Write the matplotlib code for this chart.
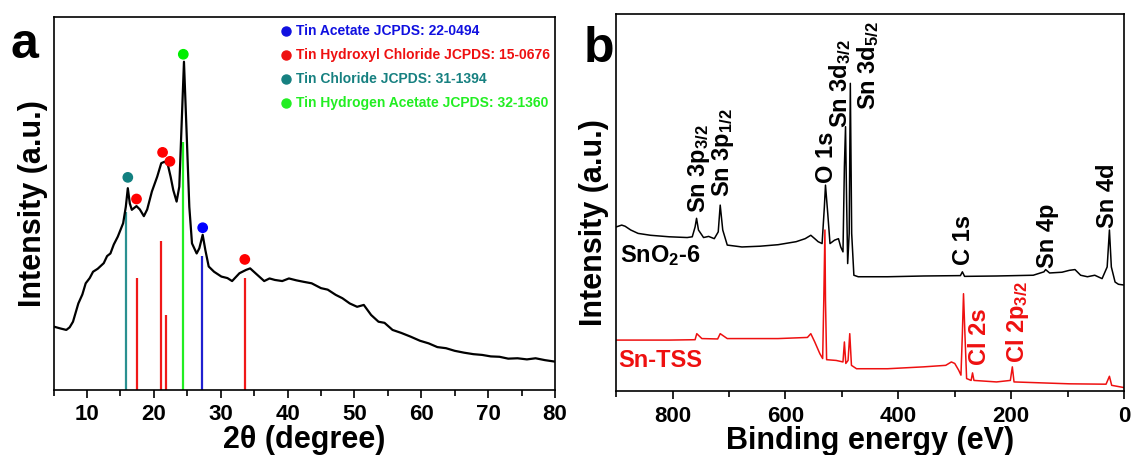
import matplotlib
matplotlib.use('Agg')
import matplotlib.pyplot as plt
from matplotlib.ticker import MultipleLocator

plt.rcParams['font.family'] = ['Liberation Sans', 'DejaVu Sans']
plt.rcParams['font.weight'] = 'bold'
plt.rcParams['mathtext.fontset'] = 'custom'
plt.rcParams['mathtext.rm'] = 'Liberation Sans:bold'
plt.rcParams['mathtext.it'] = 'Liberation Sans:bold'
plt.rcParams['mathtext.bf'] = 'Liberation Sans:bold'
plt.rcParams['mathtext.default'] = 'rm'

# ---- panel a: XRD ----
xrd_2theta = [5.0, 6.0, 6.9, 7.4, 7.9, 8.7, 9.3, 9.8, 10.4, 10.9, 11.6, 12.5, 13.0,
              13.5, 14.0, 14.6, 15.4, 15.8, 16.1, 16.4, 16.7, 17.4, 17.9, 18.5,
              19.0, 19.7, 20.5, 21.1, 21.6, 22.1, 22.5, 22.9, 23.4, 23.8, 24.1,
              24.5, 24.9, 25.3, 25.7, 26.4, 26.8, 27.3, 27.7, 28.2, 29.0, 30.1,
              31.0, 31.7, 32.8, 33.8, 34.4, 35.2, 36.5, 37.3, 38.1, 39.2, 40.2,
              41.3, 42.4, 43.6, 45.0, 46.0, 47.2, 48.2, 49.3, 50.4, 51.4, 52.5,
              53.6, 54.5, 55.7, 57.0, 58.4, 59.8, 61.1, 62.4, 63.7, 65.0, 66.4,
              67.8, 69.1, 70.4, 71.7, 73.0, 74.4, 75.8, 77.1, 78.5, 80.0]
xrd_intensity = [17.0, 16.5, 16.1, 16.8, 18.3, 23.2, 25.6, 28.6, 30.0, 31.7, 32.5,
                 34.0, 35.9, 36.6, 39.0, 41.1, 44.7, 49.1, 54.1, 50.0, 48.3, 49.3,
                 48.4, 46.6, 48.4, 53.2, 57.2, 60.8, 61.2, 60.3, 57.2, 53.6, 50.5,
                 54.5, 68.8, 88.0, 68.8, 49.1, 39.3, 36.6, 38.0, 41.6, 37.5, 33.1,
                 31.7, 30.4, 30.0, 29.2, 31.3, 32.2, 32.6, 31.3, 29.2, 29.9, 29.5,
                 29.2, 29.9, 29.4, 29.0, 28.6, 27.3, 26.9, 25.5, 24.6, 23.2, 22.3,
                 22.8, 20.1, 18.3, 18.0, 16.1, 15.3, 14.3, 13.2, 12.5, 11.5, 11.2,
                 10.5, 10.0, 9.6, 9.4, 9.0, 8.9, 8.4, 8.5, 8.2, 8.5, 8.0, 7.6]

stick_pos = [15.9, 17.4, 21.1, 21.8, 24.4, 27.2, 33.7]
stick_height = [47.8, 29.9, 40.0, 20.1, 66.6, 35.9, 29.9]
stick_color = ['#2a9090', '#f01818', '#f01818', '#f01818', '#22ee22', '#2020d0', '#f01818']

dot_pos = [16.1, 17.4, 21.3, 22.4, 24.4, 27.3, 33.6]
dot_height = [57.0, 51.2, 63.7, 61.3, 90.0, 43.5, 35.0]
dot_color = ['#128080', '#ff0000', '#ff0000', '#ff0000', '#00ee00', '#0000ff', '#ff0000']

legend_labels = ['Tin Acetate JCPDS: 22-0494',
                 'Tin Hydroxyl Chloride JCPDS: 15-0676',
                 'Tin Chloride JCPDS: 31-1394',
                 'Tin Hydrogen Acetate JCPDS: 32-1360']
legend_colors = ['#1010e0', '#ee1010', '#168080', '#22ee22']

# ---- panel b: XPS ----
be_black = [900, 890, 884, 874, 861, 839, 806, 774, 765, 760, 757.4, 754, 745, 736,
            726, 719, 715.5, 711, 703, 677, 645, 613, 581, 565, 555, 548, 542, 535,
            531, 529, 525, 521, 513, 506, 502, 498, 495.5, 493.5, 491.6, 489.7, 487,
            485, 482.6, 478.7, 471, 419, 355, 290, 286.5, 282.6, 226, 161, 142, 139,
            132, 110, 97, 87, 77, 65, 52, 39, 30, 26, 22.6, 16, 10, 0]
int_black = [43.5, 44.0, 43.7, 42.7, 41.8, 41.3, 40.9, 40.7, 40.9, 43.5, 45.8, 42.7,
             40.7, 41.0, 40.4, 42.2, 49.3, 42.7, 38.7, 38.2, 38.4, 38.8, 39.6, 40.4,
             41.3, 40.4, 39.6, 39.1, 48.8, 54.6, 47.1, 39.1, 40.0, 40.4, 38.2, 36.9,
             59.5, 70.1, 50.6, 33.8, 41.8, 81.6, 41.8, 30.7, 30.3, 30.3, 30.5, 30.6,
             31.6, 30.4, 30.5, 30.7, 31.6, 32.2, 31.3, 31.5, 32.0, 32.2, 30.7, 30.3,
             30.7, 29.8, 32.9, 42.7, 32.9, 28.9, 28.3, 28.1]

be_red = [900, 806, 760, 757, 748, 720, 715.5, 703, 613, 561, 555, 548, 539, 534,
          532, 530, 529, 527, 510, 498, 495.5, 493, 489, 486, 483, 474, 419, 355,
          316, 306, 300, 293, 289, 286.5, 284.5, 282, 279, 271, 268.5, 266, 226,
          201.5, 198, 195, 97, 32, 26, 22, 0]
int_red = [13.5, 13.5, 13.6, 15.2, 13.9, 13.8, 15.2, 13.9, 13.9, 14.2, 15.2, 13.0,
           9.9, 8.6, 24.1, 42.7, 24.1, 8.3, 8.1, 7.7, 13.0, 7.3, 8.1, 15.2, 6.8, 5.9,
           5.9, 6.4, 6.8, 7.7, 7.3, 5.5, 4.2, 15.2, 25.8, 15.2, 3.3, 2.8, 4.8, 2.8,
           2.4, 2.8, 6.4, 2.4, 1.9, 1.8, 3.9, 1.5, 0.9]

peak_labels = ['Sn 3p$_{3/2}$', 'Sn 3p$_{1/2}$', 'O 1s', 'Sn 3d$_{3/2}$', 'Sn 3d$_{5/2}$',
               'C 1s', 'Sn 4p', 'Sn 4d', 'Cl 2s', 'Cl 2p$_{3/2}$']
peak_be = [753, 710, 528, 503, 454, 285, 136, 30, 257, 188]
peak_y = [47.2, 51.5, 55.2, 69.8, 74.5, 33.4, 32.6, 43.2, 6.9, 7.4]
peak_color = ['black'] * 8 + ['#ee1010', '#ee1010']

fig = plt.figure(figsize=(11.31, 4.55), dpi=100)

# panel a
ax = fig.add_axes([0.0474, 0.1429, 0.4433, 0.8198])
ax.vlines(stick_pos, 0, stick_height, colors=stick_color, lw=1.6)
ax.plot(xrd_2theta, xrd_intensity, color='black', lw=1.6)
ax.scatter(dot_pos, dot_height, s=45, c=dot_color, zorder=3)
ax.set_xlim(5, 80)
ax.set_ylim(0, 100)
ax.xaxis.set_major_locator(MultipleLocator(10))
ax.xaxis.set_minor_locator(MultipleLocator(5))
ax.set_yticks([])
ax.tick_params(axis='x', which='major', length=6, width=1.2, labelsize=16, pad=4)
ax.tick_params(axis='x', which='minor', length=4, width=1.2)
for s in ax.spines.values():
    s.set_linewidth(1.2)
ax.set_xlabel('2θ (degree)', fontsize=22, fontweight='bold', labelpad=0)
ax.set_ylabel('Intensity (a.u.)', fontsize=22, fontweight='bold')
ax.yaxis.set_label_coords(-0.011, 0.5)

for i, (lab, col) in enumerate(zip(legend_labels, legend_colors)):
    y = (390 - (31 + i * 24)) / 373
    ax.plot(0.463, y, 'o', color=col, ms=6.5, transform=ax.transAxes, clip_on=False)
    ax.text(0.483, y, lab, color=col, fontsize=10, fontweight='bold',
            va='center', ha='left', transform=ax.transAxes)

# panel b
bx = fig.add_axes([0.5447, 0.1407, 0.4492, 0.8286])
bx.plot(be_black, int_black, color='black', lw=1.1)
bx.plot(be_red, int_red, color='#ee1010', lw=1.1)
bx.set_xlim(900, 0)
bx.set_ylim(0, 100)
bx.xaxis.set_major_locator(MultipleLocator(200))
bx.xaxis.set_minor_locator(MultipleLocator(100))
bx.set_yticks([])
bx.tick_params(axis='x', which='major', length=6, width=1.2, labelsize=16, pad=5)
bx.tick_params(axis='x', which='minor', length=4, width=1.2)
for s in bx.spines.values():
    s.set_linewidth(1.2)
bx.set_xlabel('Binding energy (eV)', fontsize=22, fontweight='bold', labelpad=-1)
bx.set_ylabel('Intensity (a.u.)', fontsize=22, fontweight='bold')
bx.yaxis.set_label_coords(-0.014, 0.448)

for lab, xv, yv, col in zip(peak_labels, peak_be, peak_y, peak_color):
    bx.text(xv, yv, lab, rotation=90, ha='center', va='bottom', fontsize=17,
            fontweight='bold', color=col)

bx.text(893, 34.2, 'SnO$_2$-6', fontsize=17, fontweight='bold', color='black',
        ha='left', va='baseline')
bx.text(896, 6.4, 'Sn-TSS', fontsize=17, fontweight='bold', color='#ee1010',
        ha='left', va='baseline')

fig.text(0.0097, 1 - 58 / 455, 'a', fontsize=36, fontweight='bold', va='baseline')
fig.text(0.516, 1 - 62 / 455, 'b', fontsize=36, fontweight='bold', va='baseline')

fig.savefig('out.png', dpi=100)
